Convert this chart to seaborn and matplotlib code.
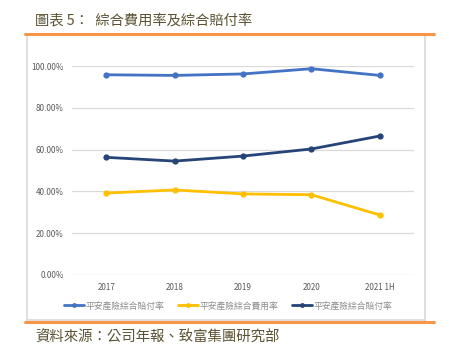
import matplotlib
matplotlib.use("Agg")
import matplotlib.pyplot as plt
import seaborn as sns
import pandas as pd
from matplotlib.lines import Line2D

years = ["2017", "2018", "2019", "2020", "2021 1H"]
combined_ratio = [0.958, 0.955, 0.962, 0.987, 0.955]
expense_ratio = [0.392, 0.407, 0.388, 0.384, 0.287]
loss_ratio = [0.563, 0.545, 0.569, 0.603, 0.665]
series_labels = ["平安產險綜合賠付率", "平安產險綜合費用率", "平安產險綜合賠付率"]
series_keys = ["s1", "s2", "s3"]
colors = ["#4472C4", "#FFC000", "#264478"]
y_ticks = [0.0, 0.2, 0.4, 0.6, 0.8, 1.0]
title = "圖表 5：  綜合費用率及綜合賠付率"
source = "資料來源：公司年報、致富集團研究部"

rows = []
for key, vals in zip(series_keys, [combined_ratio, expense_ratio, loss_ratio]):
    for i, (y, v) in enumerate(zip(years, vals)):
        rows.append({"year": y, "idx": i, "series": key, "value": v})
df = pd.DataFrame(rows)

sns.set_theme(style="white")
plt.rcParams["font.family"] = ["Noto Sans CJK TC", "DejaVu Sans"]

W, H = 449, 349
fig = plt.figure(figsize=(W / 100, H / 100), dpi=100)

def fx(px):
    return px / W

def fy(py):
    return 1 - py / H

# frame (grey box)
bg = fig.add_axes([fx(27.3), fy(320), fx(424.7 - 27.3), (320 - 35) / H])
bg.set_xticks([]); bg.set_yticks([])
for s in bg.spines.values():
    s.set_color("#D9D9D9"); s.set_linewidth(1.2)
bg.set_zorder(0)

ax = fig.add_axes([fx(72), fy(275), fx(414 - 72), (275 - 66) / H])
ax.set_zorder(1)
ax.patch.set_alpha(0)
sns.lineplot(data=df, x="idx", y="value", hue="series", hue_order=series_keys,
             palette=colors, marker="o", markersize=4.5, markeredgewidth=0,
             linewidth=2.0, ax=ax, legend=False, clip_on=False)
ax.set_xlim(-0.5, len(years) - 0.5)
ax.set_ylim(0, 1.0)
ax.set_xticks(range(len(years)))
ax.set_xticklabels(years)
ax.set_yticks(y_ticks)
ax.set_yticklabels([f"{v*100:.2f}%" for v in y_ticks])
ax.tick_params(axis="both", labelsize=5.8, colors="#595959", length=0, pad=6)
ax.set_xlabel(""); ax.set_ylabel("")
for s in ax.spines.values():
    s.set_visible(False)
ax.grid(axis="y", color="#D9D9D9", linewidth=0.9)
ax.grid(axis="x", visible=False)
ax.set_axisbelow(True)

handles = [Line2D([0], [0], color=c, lw=2, marker="o", markersize=3.5, markeredgewidth=0)
           for c in colors]
fig.legend(handles, series_labels, loc="center", bbox_to_anchor=(fx(228), fy(306)),
           ncol=3, frameon=False, fontsize=6.3, labelcolor="#8C8C8C",
           handlelength=2.3, handletextpad=0.15, columnspacing=1.6)

# orange rules
fig.add_artist(Line2D([fx(25), fx(434)], [fy(33.5), fy(33.5)], color="#F79646", lw=2.2))
fig.add_artist(Line2D([fx(25), fx(434)], [fy(321.7), fy(321.7)], color="#F79646", lw=2.2))

fig.text(fx(35), fy(20), title, fontsize=10.3, color="#5B5334", va="center", ha="left")
fig.text(fx(35), fy(337.5), source, fontsize=10.4, color="#5B5334", va="center", ha="left")

fig.savefig("out.png", dpi=100, facecolor="white")
